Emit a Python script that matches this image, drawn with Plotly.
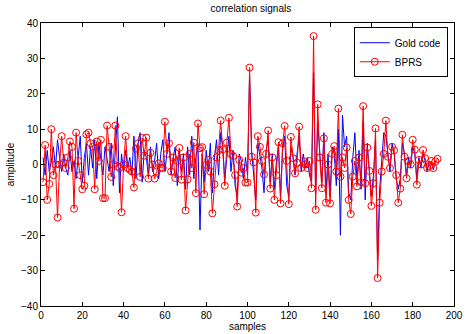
import plotly.graph_objects as go

samples = list(range(1, 193))

gold_code = [
    2, -3, 4, -2, 1, 5, -1, 7, 2, -2, 3, -1, -3, 4, -2, 1, -4, 3, 8, -5,
    2, 6, -3, 5, -1, 7, -4, 6, 2, -3, 5, 1, -2, 6, -6, 4, 13.5, -8, 3, -2,
    4, -1, 2, -3, 8, -4, 6, 9, -5, 4, 2, -3, 5, -2, 1, 6, -4, 3, 7, -2,
    4, 9, -3, 2, 5, -6, 4, -2, 3, -7, 5, -3, 8, -4, 2, 6, -18.5, 3, -5, 4,
    -2, 6, -8, 2, 7, -3, 9, 5, -4, 3, 8, -2, 4, -6, -9, 3, 1, -4, 2, -3,
    25, 4, -2, -10, 6, 3, -1, -8, 4, 7, -5, 3, -7, 1, 5, -9, 4, 8, -6, -9,
    5, 2, -3, 3, 8, -2, 3, -1, 2, -3, -5, 26, -8, 12, 4, -5, 9, -8, 3, -9,
    5, 3, -6, 10, -20, 14, 5, 8, -8, -10, 2, 9, -5, 4, -7, 12, -10, 6, -2, -9,
    -3, 7, -27, -7, 1, 9, 8, 3, -2, 6, 3, -4, -7, -4, 6, 3, -3, 2, -1, 5,
    3, -4, 2, -1, 3, 1, -2, 1, 0.5, -1.5, 1, 0.5,
]

bprs = [
    -5, 5.5, -10, -5.5, 10, -3, 0, -15, 0, 8, 0.5, -1, 2, 6.5, 5, -12.5, 9, 1, -3, -7,
    -6, 8.5, 9, 6, 5, -7, 6.5, 1, 7, -9.5, -9.5, 11, 5, -3.5, 0, 11, -0.5, -1, -13.5, 0,
    8, -1, -1.5, -2, -6.5, 4.5, 6, -3.5, 7.5, 2.5, 7.6, -4, 3.3, 0, -4, -2, 0.3, -0.9, -1, 12.1,
    3, 6, -2, 2, -3.8, 1, 4.7, -4.3, 2, -13, -4.2, 3, -1, 6.2, -8.1, 11.6, 4.6, 4.9, -8.4, -0.1,
    1.3, -2, -13.8, -5.6, 2, 4, 12.4, 4.3, -6, 6.2, 13.2, 3, 2.4, -3, -11.9, 1.3, -2.3, -1, -5.1, -5.1,
    27.4, 2.2, 0.6, -13.6, 8, 5, 1, -2.8, 3, 9.6, -6.8, 2, -10, -3, 6.3, -11, 6, 10.9, 1, -11.2,
    7.8, 1.8, -2.5, 0.5, 10.7, -1, 1, 0, -1, 1, -6.7, 36.3, -12.8, 17, 2, -6.7, 7.4, -10.8, 0, -11,
    3, 5.2, -2, 15.8, -3.4, 2, -1, 4.8, -10, -14, -3.4, 1, -6.2, 2, -5, 16.5, -5.3, 4.8, -1.8, -11.7,
    -5.3, 10.2, -32.1, -10.8, -2, 3, 12.4, 2.2, -1, 5, 4, -3, -10.8, -6.8, 8.4, 2.2, -3.9, 1, 0, 7,
    4.2, -5.7, 1.3, 0, 4.1, 1.8, -1, -0.4, 1, -1, 0.9, 1.6,
]

x_ticks = [0, 20, 40, 60, 80, 100, 120, 140, 160, 180, 200]
y_ticks = [-40, -30, -20, -10, 0, 10, 20, 30, 40]

fig = go.Figure()
fig.add_trace(go.Scatter(
    x=samples, y=gold_code, mode="lines", name="Gold code",
    line=dict(color="#0000ff", width=1),
))
fig.add_trace(go.Scatter(
    x=samples, y=bprs, mode="lines+markers", name="BPRS",
    line=dict(color="#ff0000", width=1),
    marker=dict(symbol="circle-open", size=7, color="#ff0000", line=dict(width=1)),
))

axis_common = dict(
    showgrid=False, zeroline=False, showline=True, linecolor="black", linewidth=1,
    mirror="ticks", ticks="inside", ticklen=4, tickcolor="black", automargin=False,
    tickfont=dict(size=10, color="black", family="Liberation Sans, Arial, sans-serif"),
)

fig.update_layout(
    width=469, height=334,
    margin=dict(l=41, r=15, t=23, b=28),
    paper_bgcolor="white", plot_bgcolor="white",
    font=dict(family="Liberation Sans, Arial, sans-serif", size=10, color="black"),
    title=dict(text="correlation signals", x=0.535, xanchor="center", y=0.975, yanchor="middle",
               font=dict(size=10), automargin=False),
    xaxis=dict(range=[0, 200], tickvals=x_ticks,
               title=dict(text="samples", standoff=2, font=dict(size=10)), **axis_common),
    yaxis=dict(range=[-40, 40], tickvals=y_ticks,
               title=dict(text="amplitude", standoff=4, font=dict(size=10)), **axis_common),
    legend=dict(x=0.985, xanchor="right", y=0.985, yanchor="top",
                bgcolor="white", bordercolor="black", borderwidth=1,
                font=dict(size=10), tracegroupgap=0),
    showlegend=True,
)

fig.write_html(
    "out.html",
    config={"displayModeBar": False},
    post_script="document.body.style.margin='0';document.body.style.overflow='hidden';",
)
